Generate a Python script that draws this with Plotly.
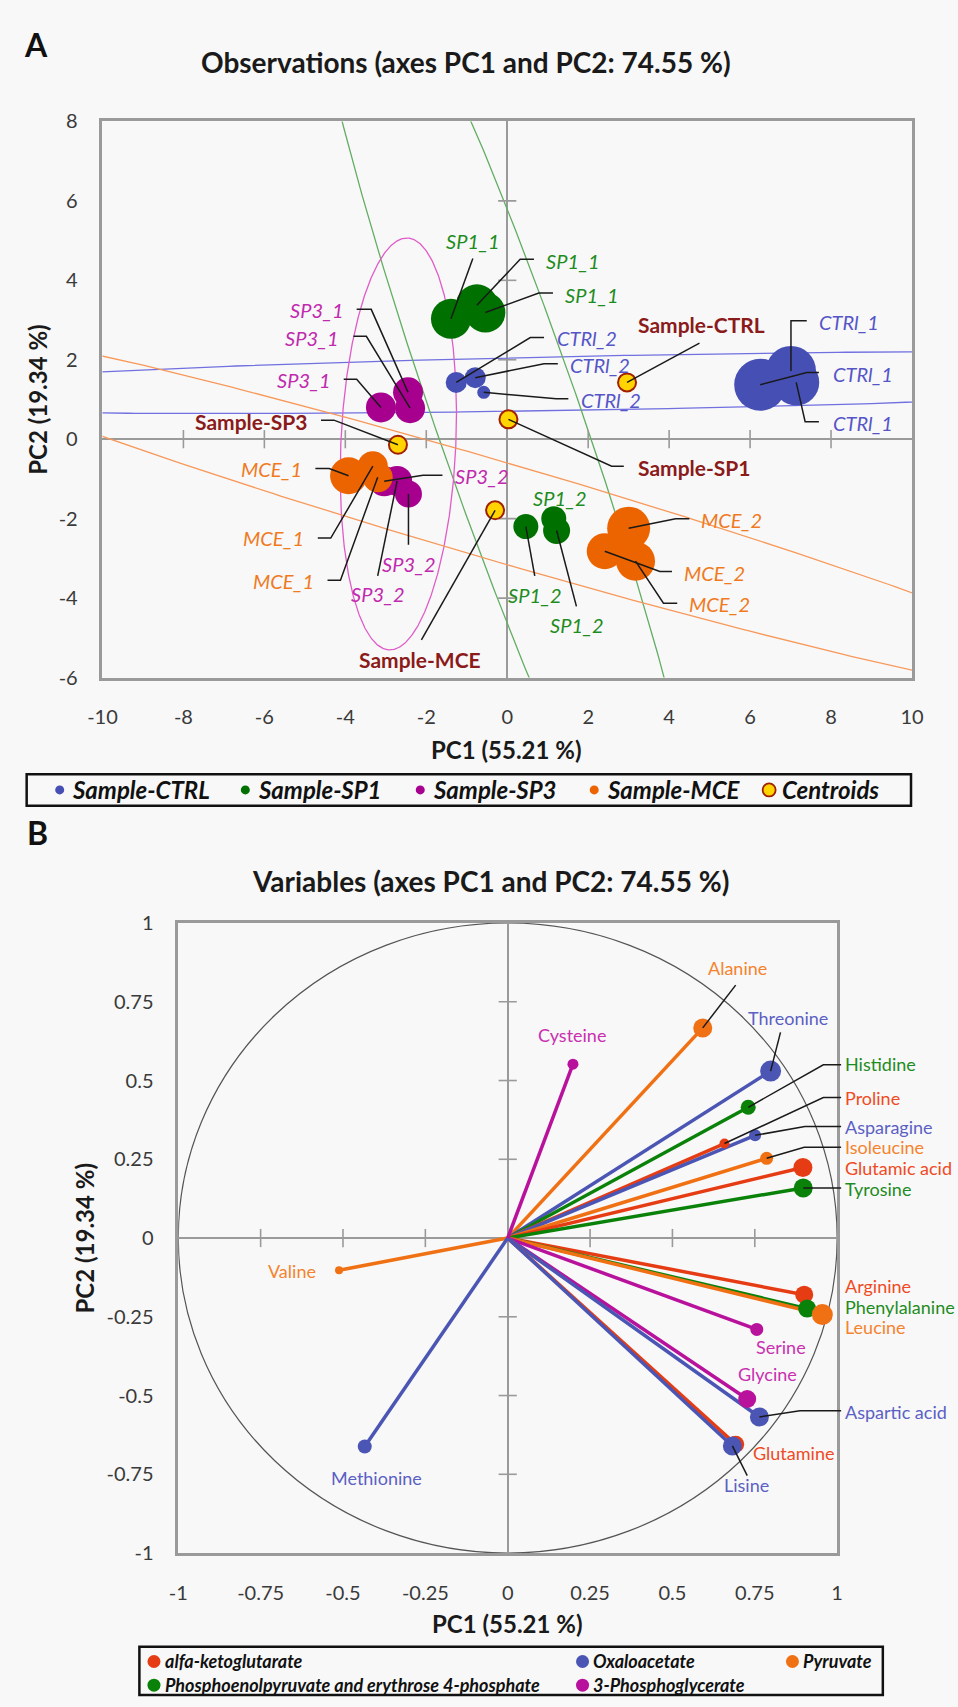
import numpy as np
import plotly.graph_objects as go

W, H = 958, 1707
FONT = "Lato, 'Open Sans', sans-serif"
BG = "#f8f8f8"

# ---------------- Panel A : observations ----------------
ctrl_names = ["CTRl_1", "CTRl_1", "CTRl_1", "CTRl_2", "CTRl_2", "CTRl_2"]
ctrl_pc1 = [6.25, 7.01, 7.14, -1.26, -0.79, -0.58]
ctrl_pc2 = [1.37, 1.72, 1.43, 1.43, 1.55, 1.18]

sp1_names = ["SP1_1", "SP1_1", "SP1_1", "SP1_2", "SP1_2", "SP1_2"]
sp1_pc1 = [-1.39, -0.75, -0.54, 0.46, 1.15, 1.22]
sp1_pc2 = [3.03, 3.37, 3.19, -2.20, -2.00, -2.30]

sp3_names = ["SP3_1", "SP3_1", "SP3_1", "SP3_2", "SP3_2", "SP3_2"]
sp3_pc1 = [-3.12, -2.45, -2.40, -3.04, -2.44, -2.72]
sp3_pc2 = [0.80, 1.18, 0.78, -1.06, -1.38, -1.05]

mce_names = ["MCE_1", "MCE_1", "MCE_1", "MCE_2", "MCE_2", "MCE_2"]
mce_pc1 = [-3.92, -3.32, -3.20, 3.00, 2.41, 3.17]
mce_pc2 = [-0.92, -0.68, -0.96, -2.24, -2.82, -3.07]

centroid_names = ["Sample-CTRL", "Sample-SP1", "Sample-SP3", "Sample-MCE"]
centroid_pc1 = [2.96, 0.03, -2.70, -0.30]
centroid_pc2 = [1.43, 0.50, -0.14, -1.79]

a_xtick_vals = [-10, -8, -6, -4, -2, 0, 2, 4, 6, 8, 10]
a_xtick_text = ["-10", "-8", "-6", "-4", "-2", "0", "2", "4", "6", "8", "10"]
a_ytick_vals = [-6, -4, -2, 0, 2, 4, 6, 8]
a_ytick_text = ["-6", "-4", "-2", "0", "2", "4", "6", "8"]

# ---------------- Panel B : variables ----------------
var_names = ["Alanine", "Threonine", "Histidine", "Proline", "Asparagine", "Isoleucine",
             "Glutamic acid", "Tyrosine", "Arginine", "Phenylalanine", "Leucine", "Serine",
             "Glycine", "Aspartic acid", "Glutamine", "Lisine", "Valine", "Methionine", "Cysteine"]
var_pc1 = [0.592, 0.798, 0.730, 0.658, 0.751, 0.786, 0.896, 0.897, 0.900, 0.909, 0.955, 0.756,
           0.727, 0.764, 0.692, 0.682, -0.512, -0.434, 0.198]
var_pc2 = [0.667, 0.530, 0.415, 0.300, 0.326, 0.253, 0.224, 0.159, -0.180, -0.224, -0.243, -0.290,
           -0.511, -0.568, -0.655, -0.660, -0.102, -0.662, 0.552]
var_group = ["Pyruvate", "Oxaloacetate", "PEP", "aKG", "Oxaloacetate", "Pyruvate",
             "aKG", "PEP", "aKG", "PEP", "Pyruvate", "3PG",
             "3PG", "Oxaloacetate", "aKG", "Oxaloacetate", "Pyruvate", "Oxaloacetate", "3PG"]
group_names = {"aKG": "alfa-ketoglutarate", "Oxaloacetate": "Oxaloacetate", "Pyruvate": "Pyruvate",
               "PEP": "Phosphoenolpyruvate and erythrose 4-phosphate", "3PG": "3-Phosphoglycerate"}

b_tick_vals = [-1, -0.75, -0.5, -0.25, 0, 0.25, 0.5, 0.75, 1]
b_tick_text = ["-1", "-0.75", "-0.5", "-0.25", "0", "0.25", "0.5", "0.75", "1"]

# ---------------- styles ----------------
A_COL = {"ctrl": "#4650B4", "sp1": "#007000", "sp3": "#A8008E", "mce": "#EC6400"}
A_LBL = {"ctrl": "#5555C8", "sp1": "#1E8C1E", "sp3": "#C02AAE", "mce": "#F07A1E"}
A_ELL = {"ctrl": "#7070E0", "sp1": "#62AD62", "sp3": "#E05CC8", "mce": "#F7995A"}
A_SIZE = {"ctrl": [52, 50, 46, 21, 21, 13], "sp1": [40, 42, 40, 25, 25, 27],
          "sp3": [30, 30, 30, 30, 27, 30], "mce": [37, 30, 30, 43, 36, 39]}
B_LINE = {"aKG": "#E63C14", "PEP": "#0A820A", "Oxaloacetate": "#4B55B4",
          "Pyruvate": "#F07014", "3PG": "#B8129C"}
B_LBL = {"aKG": "#F04A24", "PEP": "#1E8C1E", "Oxaloacetate": "#5B60C4",
         "Pyruvate": "#F5832E", "3PG": "#C830B0"}
B_SIZE = [19, 21, 15, 10, 12, 13, 19, 19, 18, 18, 21, 13, 18, 19, 17, 19, 8, 14, 11]
TICK_GRAY = "#9a9a9a"

# plot-area pixel boxes (left, top, right, bottom)
A_BOX = (90, 110, 923, 674)
B_BOX = (168, 923, 846, 1562)

groups = {
    "ctrl": (ctrl_names, ctrl_pc1, ctrl_pc2, "Sample-CTRL"),
    "sp1": (sp1_names, sp1_pc1, sp1_pc2, "Sample-SP1"),
    "sp3": (sp3_names, sp3_pc1, sp3_pc2, "Sample-SP3"),
    "mce": (mce_names, mce_pc1, mce_pc2, "Sample-MCE"),
}

# confidence ellipses: (group, centre x, centre y, semi-major, semi-minor, angle deg)
ellipse_specs = [
    ("ctrl", 2.96, 1.43, 20.3, 0.68, 1.1),
    ("sp1", 0.03, 0.50, 15.0, 1.78, 108.8),
    ("sp3", -2.69, -0.12, 5.19, 1.42, 87.5),
    ("mce", -0.30, -1.79, 16.6, 1.23, -16.6),
]

fig = go.Figure()


def ellipse(cx, cy, a, b, ang, n=600):
    t = np.linspace(0, 2 * np.pi, n)
    th = np.deg2rad(ang)
    x = cx + a * np.cos(t) * np.cos(th) - b * np.sin(t) * np.sin(th)
    y = cy + a * np.cos(t) * np.sin(th) + b * np.sin(t) * np.cos(th)
    return x, y


for g, cx, cy, a, b, ang in ellipse_specs:
    ex, ey = ellipse(cx, cy, a, b, ang)
    fig.add_trace(go.Scatter(x=ex, y=ey, mode="lines", line=dict(color=A_ELL[g], width=1.3),
                             hoverinfo="skip", showlegend=False, xaxis="x", yaxis="y"))


def zero_ticks(xvals, yvals, xa, ya):
    fig.add_trace(go.Scatter(x=xvals, y=[0] * len(xvals), mode="markers",
                             marker=dict(symbol="line-ns-open", size=13, color=TICK_GRAY,
                                         line=dict(color=TICK_GRAY, width=1.6)),
                             hoverinfo="skip", showlegend=False, xaxis=xa, yaxis=ya))
    fig.add_trace(go.Scatter(x=[0] * len(yvals), y=yvals, mode="markers",
                             marker=dict(symbol="line-ew-open", size=13, color=TICK_GRAY,
                                         line=dict(color=TICK_GRAY, width=1.6)),
                             hoverinfo="skip", showlegend=False, xaxis=xa, yaxis=ya))


zero_ticks([v for v in a_xtick_vals if v not in (-10, 0, 10)],
           [v for v in a_ytick_vals if v not in (-6, 0, 8)], "x", "y")

for g in ["ctrl", "sp1", "sp3", "mce"]:
    names, xs, ys, gname = groups[g]
    fig.add_trace(go.Scatter(x=xs, y=ys, text=names, name=gname, mode="markers",
                             marker=dict(color=A_COL[g], size=A_SIZE[g], line=dict(width=0), opacity=1),
                             showlegend=False, xaxis="x", yaxis="y"))

fig.add_trace(go.Scatter(x=centroid_pc1, y=centroid_pc2, text=centroid_names, name="Centroids",
                         mode="markers",
                         marker=dict(color="#FFD400", size=18, line=dict(color="#A02000", width=2)),
                         showlegend=False, xaxis="x", yaxis="y"))

# label layout for panel A: (group, index, label x, label y, anchor, leader path)
A_labels = [
    ("ctrl", 1, 7.65, 2.94, "left", [(7.40, 2.98), (7.01, 2.98)]),
    ("ctrl", 0, 8.00, 1.65, "left", [(7.70, 1.68), (7.40, 1.68)]),
    ("ctrl", 2, 8.00, 0.41, "left", [(7.70, 0.44), (7.36, 0.44)]),
    ("ctrl", 3, 1.17, 2.55, "left", [(0.91, 2.56), (0.57, 2.56)]),
    ("ctrl", 4, 1.51, 1.88, "left", [(1.25, 1.90), (0.91, 1.90)]),
    ("ctrl", 5, 1.77, 0.98, "left", [(1.51, 1.02), (1.21, 1.02)]),
    ("sp1", 0, -0.85, 4.98, "center", [(-0.85, 4.55)]),
    ("sp1", 1, 0.91, 4.49, "left", [(0.66, 4.53), (0.32, 4.53)]),
    ("sp1", 2, 1.38, 3.64, "left", [(1.13, 3.68), (0.78, 3.68)]),
    ("sp1", 4, 1.28, -1.49, "center", []),
    ("sp1", 3, 0.68, -3.91, "center", [(0.68, -3.44)]),
    ("sp1", 5, 1.71, -4.68, "center", [(1.71, -4.21)]),
    ("sp3", 1, -4.00, 3.25, "right", [(-3.72, 3.27), (-3.36, 3.27)]),
    ("sp3", 2, -4.12, 2.56, "right", [(-3.80, 2.59), (-3.48, 2.59)]),
    ("sp3", 0, -4.32, 1.49, "right", [(-4.04, 1.51), (-3.72, 1.51)]),
    ("sp3", 3, -1.35, -0.92, "left", [(-1.60, -0.91), (-2.08, -0.91)]),
    ("sp3", 4, -2.44, -3.15, "center", [(-2.44, -2.66)]),
    ("sp3", 5, -3.20, -3.90, "center", [(-3.20, -3.44)]),
    ("mce", 0, -5.02, -0.76, "right", [(-4.74, -0.74), (-4.40, -0.74)]),
    ("mce", 1, -4.96, -2.49, "right", [(-4.68, -2.49), (-4.36, -2.49)]),
    ("mce", 2, -4.72, -3.56, "right", [(-4.44, -3.55), (-4.12, -3.55)]),
    ("mce", 3, 4.75, -2.04, "left", [(4.50, -2.00), (4.16, -2.00)]),
    ("mce", 4, 4.33, -3.36, "left", [(4.07, -3.33), (3.77, -3.33)]),
    ("mce", 5, 4.45, -4.14, "left", [(4.20, -4.13), (3.86, -4.13)]),
]
C_labels = [
    (0, 4.80, 2.88, "center", [(4.75, 2.42)]),
    (1, 3.17, -0.72, "left", [(2.88, -0.68), (2.58, -0.68)]),
    (2, -4.88, 0.44, "right", [(-4.60, 0.48), (-4.28, 0.48)]),
    (3, -2.16, -5.54, "center", [(-2.12, -5.05)]),
]

annotations = []
lx_all, ly_all = [], []
for g, i, lx, ly, anc, path in A_labels:
    names, xs, ys, _ = groups[g]
    annotations.append(dict(x=lx, y=ly, xref="x", yref="y", text="<i>%s</i>" % names[i],
                            showarrow=False, xanchor=anc, yanchor="middle",
                            font=dict(family=FONT, size=20, color=A_LBL[g])))
    if path:
        pts = path + [(xs[i], ys[i])]
        lx_all += [p[0] for p in pts] + [None]
        ly_all += [p[1] for p in pts] + [None]
for i, lx, ly, anc, path in C_labels:
    annotations.append(dict(x=lx, y=ly, xref="x", yref="y", text="<b>%s</b>" % centroid_names[i],
                            showarrow=False, xanchor=anc, yanchor="middle",
                            font=dict(family=FONT, size=21, color="#8B1A1A")))
    pts = path + [(centroid_pc1[i], centroid_pc2[i])]
    lx_all += [p[0] for p in pts] + [None]
    ly_all += [p[1] for p in pts] + [None]

fig.add_trace(go.Scatter(x=lx_all, y=ly_all, mode="lines", line=dict(color="#1a1a1a", width=1.5),
                         hoverinfo="skip", showlegend=False, xaxis="x", yaxis="y"))

# ---------------- Panel B traces ----------------
zero_ticks([v for v in b_tick_vals if v not in (-1, 0, 1)],
           [v for v in b_tick_vals if v not in (-1, 0, 1)], "x2", "y2")

for i in range(len(var_names)):
    g = var_group[i]
    fig.add_trace(go.Scatter(x=[0, var_pc1[i]], y=[0, var_pc2[i]], mode="lines",
                             line=dict(color=B_LINE[g], width=3.5), hoverinfo="skip",
                             showlegend=False, xaxis="x2", yaxis="y2"))
for i in range(len(var_names)):
    g = var_group[i]
    fig.add_trace(go.Scatter(x=[var_pc1[i]], y=[var_pc2[i]], mode="markers", name=var_names[i],
                             marker=dict(color=B_LINE[g], size=B_SIZE[i], line=dict(width=0)),
                             showlegend=False, xaxis="x2", yaxis="y2"))


def P(px, py):
    return px / W, 1 - py / H


def b_to_paper(x, y):
    l, t, r, b = B_BOX
    return P(l + (x + 1) / 2 * (r - l), b - (y + 1) / 2 * (b - t))


B_labels = {
    "Alanine": (0.697, 0.858, "center", [(0.692, 0.803)]),
    "Threonine": (0.852, 0.700, "center", [(0.828, 0.653)]),
    "Histidine": (1.017, 0.552, "left", [(1.012, 0.550), (0.958, 0.550)]),
    "Proline": (1.017, 0.446, "left", [(1.012, 0.446), (0.958, 0.446)]),
    "Asparagine": (1.017, 0.354, "left", [(1.012, 0.354), (0.902, 0.354)]),
    "Isoleucine": (1.017, 0.288, "left", [(1.012, 0.288), (0.900, 0.288)]),
    "Glutamic acid": (1.017, 0.222, "left", []),
    "Tyrosine": (1.017, 0.157, "left", [(1.012, 0.159)]),
    "Arginine": (1.017, -0.151, "left", []),
    "Phenylalanine": (1.017, -0.218, "left", []),
    "Leucine": (1.017, -0.282, "left", []),
    "Serine": (0.830, -0.347, "center", []),
    "Glycine": (0.789, -0.433, "center", []),
    "Aspartic acid": (1.017, -0.553, "left", [(1.012, -0.548), (0.887, -0.548)]),
    "Glutamine": (0.866, -0.681, "center", []),
    "Lisine": (0.725, -0.783, "center", [(0.727, -0.754)]),
    "Valine": (-0.655, -0.104, "center", []),
    "Methionine": (-0.399, -0.761, "center", []),
    "Cysteine": (0.196, 0.646, "center", []),
}
shapes = []
for i, nm in enumerate(var_names):
    lx, ly, anc, path = B_labels[nm]
    ax, ay = b_to_paper(lx, ly)
    annotations.append(dict(x=ax, y=ay, xref="paper", yref="paper", text=nm, showarrow=False,
                            xanchor=anc, yanchor="middle",
                            font=dict(family=FONT, size=18, color=B_LBL[var_group[i]])))
    if path:
        pts = [b_to_paper(*p) for p in path + [(var_pc1[i], var_pc2[i])]]
        d = "M " + " L ".join("%.5f,%.5f" % p for p in pts)
        shapes.append(dict(type="path", xref="paper", yref="paper", path=d,
                           line=dict(color="#1a1a1a", width=1.5)))


# ---------------- text / titles ----------------
def ann_px(px, py, text, size, color="#1a1a1a", xanchor="center", angle=0):
    x, y = P(px, py)
    annotations.append(dict(x=x, y=y, xref="paper", yref="paper", text=text, showarrow=False,
                            xanchor=xanchor, yanchor="middle", textangle=angle,
                            font=dict(family=FONT, size=size, color=color)))


ann_px(22, 32, "<b>A</b>", 32, "#111")
ann_px(464, 50, "<b>Observations (axes PC1 and PC2: 74.55 %)</b>", 28)
ann_px(506, 747, "<b>PC1 (55.21 %)</b>", 24)
ann_px(23, 392, "<b>PC2 (19.34 %)</b>", 24, angle=-90)
ann_px(23, 831, "<b>B</b>", 32, "#111")
ann_px(489, 880, "<b>Variables (axes PC1 and PC2: 74.55 %)</b>", 28)
ann_px(507, 1633, "<b>PC1 (55.21 %)</b>", 24)
ann_px(72, 1242, "<b>PC2 (19.34 %)</b>", 24, angle=-90)


def box_px(x0, y0, x1, y1, width=2.5):
    a0, b0 = P(x0, y1)
    a1, b1 = P(x1, y0)
    shapes.append(dict(type="rect", xref="paper", yref="paper", x0=a0, y0=b0, x1=a1, y1=b1,
                       line=dict(color="#111", width=width), fillcolor="rgba(0,0,0,0)"))


def dot_px(px, py, r, fill, line_col=None, lw=0):
    ax, ay = P(px, py)
    shapes.append(dict(type="circle", xref="paper", yref="paper", xsizemode="pixel", ysizemode="pixel",
                       xanchor=ax, yanchor=ay, x0=-r, x1=r, y0=-r, y1=r, fillcolor=fill,
                       line=dict(color=line_col or fill, width=lw)))


# legend A
box_px(12, 772, 922, 804, 2.5)
legA = [("Sample-CTRL", A_COL["ctrl"], 46), ("Sample-SP1", A_COL["sp1"], 237),
        ("Sample-SP3", A_COL["sp3"], 417), ("Sample-MCE", A_COL["mce"], 596)]
for name, col, px in legA:
    dot_px(px, 788, 4.5, col)
    ann_px(px + 11, 788, "<b><i>%s</i></b>" % name, 24, "#111", "left")
dot_px(776, 788, 6.5, "#FFD400", "#A02000", 1.8)
ann_px(787, 788, "<b><i>Centroids</i></b>", 24, "#111", "left")

# legend B
box_px(128, 1657, 893, 1706, 2.5)
legB = [("aKG", 143, 1672), ("Oxaloacetate", 584, 1672), ("Pyruvate", 800, 1672),
        ("PEP", 143, 1696), ("3PG", 584, 1696)]
for g, px, py in legB:
    dot_px(px, py, 6.5, B_LINE[g])
    ann_px(px + 9, py, "<b><i>%s</i></b>" % group_names[g], 18, "#111", "left")

# unit circle of panel B
shapes.append(dict(type="circle", xref="x2", yref="y2", x0=-1, y0=-1, x1=1, y1=1,
                   line=dict(color="#555", width=1.2), layer="below"))

axis_common = dict(showgrid=False, zeroline=True, zerolinecolor=TICK_GRAY, zerolinewidth=2,
                   showline=True, linecolor=TICK_GRAY, linewidth=2.5, mirror=True, ticks="",
                   tickfont=dict(family=FONT, size=20, color="#3a3a3a"), fixedrange=True,
                   autorange=False)

fig.update_layout(
    width=W, height=H, margin=dict(l=0, r=0, t=0, b=0),
    paper_bgcolor=BG, plot_bgcolor=BG, showlegend=False,
    font=dict(family=FONT),
    xaxis=dict(axis_common, domain=[A_BOX[0] / W, A_BOX[2] / W], range=[-10, 10], anchor="y",
               tickvals=a_xtick_vals, ticktext=a_xtick_text, ticklabelstandoff=20),
    yaxis=dict(axis_common, domain=[1 - A_BOX[3] / H, 1 - A_BOX[1] / H], range=[-6, 8], anchor="x",
               tickvals=a_ytick_vals, ticktext=a_ytick_text, ticklabelstandoff=18),
    xaxis2=dict(axis_common, domain=[B_BOX[0] / W, B_BOX[2] / W], range=[-1, 1], anchor="y2",
                tickvals=b_tick_vals, ticktext=b_tick_text, ticklabelstandoff=20),
    yaxis2=dict(axis_common, domain=[1 - B_BOX[3] / H, 1 - B_BOX[1] / H], range=[-1, 1], anchor="x2",
                tickvals=b_tick_vals, ticktext=b_tick_text, ticklabelstandoff=18),
    annotations=annotations, shapes=shapes,
)

fig.write_html("out.html", config={"displayModeBar": False},
               post_script="document.body.style.margin='0';document.body.style.overflow='hidden';")
